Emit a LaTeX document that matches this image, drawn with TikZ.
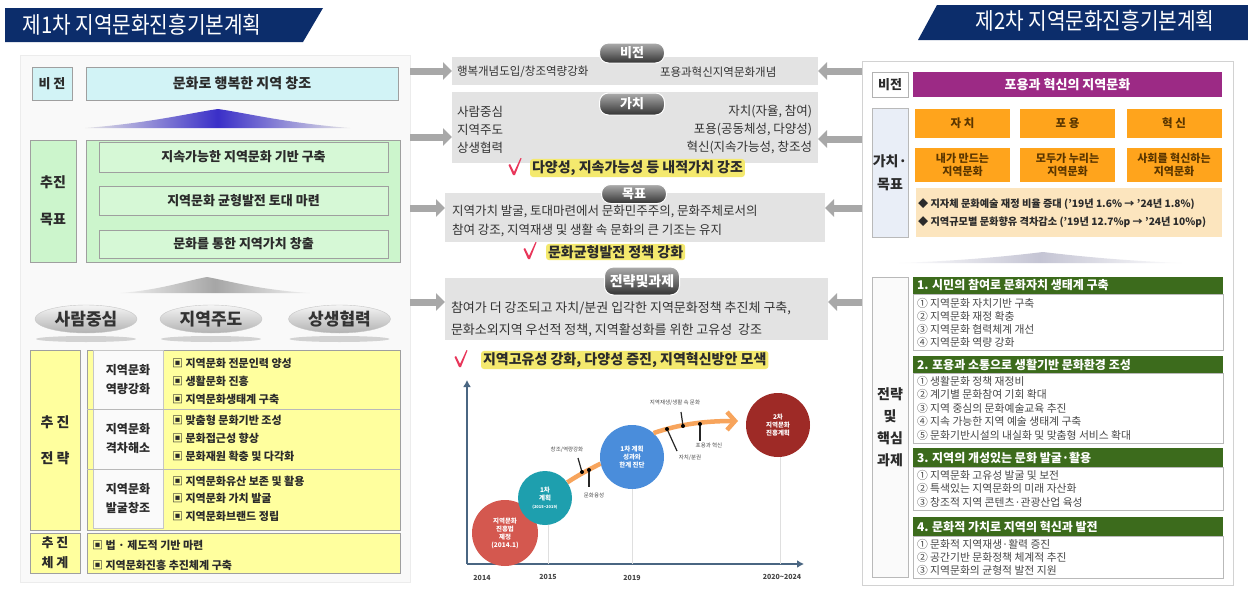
\documentclass[tikz,border=0pt]{standalone}
\usepackage{fontspec}
\setmainfont{Noto Sans CJK KR}
\usetikzlibrary{arrows.meta,shapes.geometric}
\definecolor{navy}{HTML}{0C2D6B}
\definecolor{cyanbox}{HTML}{D2F3F6}
\definecolor{greenbox}{HTML}{CCF5CC}
\definecolor{greenin}{HTML}{D6F8D6}
\definecolor{yelbox}{HTML}{FFFF9E}
\definecolor{midgrey}{HTML}{E3E3E3}
\definecolor{arrgrey}{HTML}{A8A8A8}
\definecolor{purp}{HTML}{9C2A85}
\definecolor{orng}{HTML}{FFA41C}
\definecolor{beige}{HTML}{FCE5BE}
\definecolor{hgreen}{HTML}{3C6B1C}
\definecolor{chkred}{HTML}{E8365A}
\definecolor{glowy}{HTML}{F4E96E}
\definecolor{axisc}{HTML}{4A6682}
\definecolor{cA}{HTML}{D4584F}
\definecolor{cB}{HTML}{1E9FAE}
\definecolor{cC}{HTML}{4A8DDB}
\definecolor{cD}{HTML}{9E2A26}
\definecolor{orl}{HTML}{F7A45C}
\definecolor{txt}{HTML}{2B2B2B}
\definecolor{otxt}{HTML}{5A3600}
\definecolor{vgbox}{HTML}{E9EEF7}
\definecolor{tribl}{HTML}{3A2FC8}
\newcommand{\fsz}[2]{\fontsize{#1}{#2}\selectfont}
\tikzset{
  bx/.style={inner sep=0pt, outer sep=0pt, draw=gray!75, line width=0.8pt, text=txt},
  tx/.style={inner sep=0pt, outer sep=0pt, text=txt},
  itm/.style={tx, anchor=west, font=\bfseries\fsz{11}{13}},
  mtx/.style={tx, text=black!80, font=\fsz{12.5}{14}},
  glowtx/.style={anchor=west, inner xsep=2pt, inner ysep=1.5pt, outer sep=0pt, text=txt, fill=glowy, rounded corners=3pt, font=\bfseries\fsz{14}{16}},
  garrow/.style={draw=arrgrey, line width=7pt, -{Triangle[length=9pt,width=17pt]}},
  mbox/.style={inner sep=0pt, outer sep=0pt, fill=midgrey},
  midpill/.style={rounded corners=9pt, top color=gray!65, bottom color=black!80, draw=white, line width=1pt, text=white, font=\bfseries\fsz{13}{15}, inner sep=0pt},
  kpill/.style={ellipse, top color=gray!8, bottom color=gray!60, draw=gray!45, text=black!80, font=\bfseries\fsz{17}{19}, minimum width=102pt, minimum height=28pt, inner sep=0pt},
  obox/.style={inner sep=0pt, outer sep=0pt, fill=orng, text=otxt, font=\bfseries\fsz{11.5}{13}, align=center, minimum width=95},
  hbar/.style={inner sep=0pt, outer sep=0pt, fill=hgreen, minimum width=310},
  htx/.style={tx, anchor=west, text=white, font=\bfseries\fsz{12}{14}},
  cbox/.style={inner sep=0pt, outer sep=0pt, fill=white, draw=gray!55, line width=0.7pt, minimum width=310},
  rit/.style={tx, anchor=west, text=black!72, font=\fsz{10.8}{12}},
  circ/.style={circle, inner sep=0pt, text=white, align=center, font=\bfseries\fsz{6.5}{8}},
  yr/.style={tx, text=gray!55!black, font=\bfseries\fsz{7}{8}},
  clbl/.style={tx, text=gray!60!black, font=\fsz{5.5}{6.5}},
  tick/.style={draw=black!85, line width=1.2pt},
  checkmark/.pic={\fill[chkred] (-5.5,-3) -- (-4,-4) -- (0,4) -- (6.5,-10) -- (7.5,-9.5) -- (1,7) -- (-1,7) -- cycle;}
}
\begin{document}
\begin{tikzpicture}[x=1pt,y=-1pt]
\useasboundingbox (0,0) rectangle (1248,589);
\fill[white] (0,0) rectangle (1248,589);

% ===== LEFT =====
\fill[navy] (5,8) -- (323,8) -- (303,42) -- (5,42) -- cycle;
\node[tx, text=white, font=\fsz{23}{25}] (t1) at (142,25) {\scalebox{0.88}[1]{제1차 지역문화진흥기본계획}};
\node[inner sep=0pt, outer sep=0pt, fill=gray!5, draw=gray!15, minimum width=390, minimum height=527] (lp) at (215,318.5) {};

\node[bx, fill=cyanbox, minimum width=40, minimum height=33, font=\bfseries\fsz{13}{15}] (lv) at (52,83.5) {비 전};
\node[bx, fill=cyanbox, minimum width=312, minimum height=33, font=\bfseries\fsz{14}{16}] (lvm) at (242,83.5) {문화로 행복한 지역 창조};

\shade[left color=gray!20, right color=gray!20, middle color=tribl]
  (85,128) .. controls (150,123) and (190,113) .. (218,109) .. controls (246,113) and (286,123) .. (350,128) -- cycle;

\node[bx, fill=greenbox, minimum width=46, minimum height=122, align=center, font=\bfseries\fsz{14}{37}] (lg) at (53,201) {추진\\목표};
\node[bx, fill=greenbox, minimum width=314, minimum height=122] (lgo) at (243,201) {};
\node[bx, fill=greenin, minimum width=289, minimum height=30, font=\bfseries\fsz{13}{15}] (g1) at (243.5,157) {지속가능한 지역문화 기반 구축};
\node[bx, fill=greenin, minimum width=289, minimum height=29, font=\bfseries\fsz{13}{15}] (g2) at (243.5,200.5) {지역문화 균형발전 토대 마련};
\node[bx, fill=greenin, minimum width=289, minimum height=28, font=\bfseries\fsz{13}{15}] (g3) at (243.5,244) {문화를 통한 지역가치 창출};

\shade[left color=gray!10, right color=gray!10, middle color=gray!70]
  (120,293) .. controls (160,290) and (185,281) .. (207,277) .. controls (229,281) and (260,290) .. (310,293) -- cycle;

\fill[gray!35] (86,339) ellipse [x radius=50, y radius=3];
\fill[gray!35] (211,339) ellipse [x radius=50, y radius=3];
\fill[gray!35] (339.5,339) ellipse [x radius=50, y radius=3];
\node[kpill] (p1) at (86,319) {사람중심};
\node[kpill] (p2) at (211,319) {지역주도};
\node[kpill] (p3) at (339.5,319) {상생협력};

\node[bx, fill=yelbox, minimum width=50, minimum height=180, align=center, font=\bfseries\fsz{14}{36}] (ls) at (55,440) {추 진\\전 략};
\node[bx, fill=yelbox, minimum width=313, minimum height=180] (lso) at (243.5,440) {};
\node[bx, draw=gray!45, fill=gray!4, minimum width=70, minimum height=59, align=center, font=\bfseries\fsz{12}{19}] (s1) at (128,379.5) {지역문화\\역량강화};
\node[bx, draw=gray!45, fill=gray!4, minimum width=70, minimum height=60, align=center, font=\bfseries\fsz{12}{19}] (s2) at (128,439) {지역문화\\격차해소};
\node[bx, draw=gray!45, fill=gray!4, minimum width=70, minimum height=59, align=center, font=\bfseries\fsz{12}{19}] (s3) at (128,498.5) {지역문화\\발굴창조};
\draw[gray!55, line width=0.7pt] (lso.west |- s1.south) -- (lso.east |- s1.south);
\draw[gray!55, line width=0.7pt] (lso.west |- s2.south) -- (lso.east |- s2.south);
\node[itm] (i11) at (172,363) {▣ 지역문화 전문인력 양성};
\node[itm] (i12) at (172,381) {▣ 생활문화 진흥};
\node[itm] (i13) at (172,399) {▣ 지역문화생태계 구축};
\node[itm] (i21) at (172,420) {▣ 맞춤형 문화기반 조성};
\node[itm] (i22) at (172,438) {▣ 문화접근성 향상};
\node[itm] (i23) at (172,456) {▣ 문화재원 확충 및 다각화};
\node[itm] (i31) at (172,481) {▣ 지역문화유산 보존 및 활용};
\node[itm] (i32) at (172,498) {▣ 지역문화 가치 발굴};
\node[itm] (i33) at (172,516) {▣ 지역문화브랜드 정립};

\node[bx, fill=yelbox, minimum width=50, minimum height=40, align=center, font=\bfseries\fsz{13}{20}] (lsys) at (55,553) {추 진\\체 계};
\node[bx, fill=yelbox, minimum width=313, minimum height=40] (lsyso) at (243.5,553) {};
\node[itm] (b1) at (92,545) {▣ 법 · 제도적 기반 마련};
\node[itm] (b2) at (92,565) {▣ 지역문화진흥 추진체계 구축};

% ===== MIDDLE =====
\node[mbox, minimum width=366, minimum height=28] (mv) at (635,71) {};
\node[mbox, minimum width=366, minimum height=71] (mval) at (635,127.5) {};
\node[mbox, minimum width=380, minimum height=49] (mgoal) at (635,217.5) {};
\node[mbox, minimum width=383, minimum height=62] (mstr) at (636.5,309) {};

\node[midpill, minimum width=65, minimum height=20] (pv) at (632,53) {비전};
\node[midpill, minimum width=65, minimum height=22] (pval) at (632,104) {가치};
\node[midpill, minimum width=65, minimum height=19] (pgoal) at (634,194) {목표};
\node[midpill, minimum width=75, minimum height=28, font=\bfseries\fsz{14}{16}] (pstr) at (642,281) {전략및과제};

\node[mtx, anchor=west, font=\fsz{11.5}{13}] (mv1) at (457,72) {행복개념도입/창조역량강화};
\node[mtx, anchor=west, font=\fsz{11.5}{13}] (mv2) at (660,72) {포용과혁신지역문화개념};

\node[mtx, anchor=west] (va1) at (457,112) {사람중심};
\node[mtx, anchor=west] (va2) at (457,130) {지역주도};
\node[mtx, anchor=west] (va3) at (457,148) {상생협력};
\node[mtx, anchor=east] (vb1) at (812,112) {자치(자율, 참여)};
\node[mtx, anchor=east] (vb2) at (812,130) {포용(공동체성, 다양성)};
\node[mtx, anchor=east] (vb3) at (812,148) {혁신(지속가능성, 창조성};
\pic at (514,168) {checkmark};
\node[glowtx] (ck1) at (530,168) {다양성, 지속가능성 등 내적가치 강조};

\node[mtx, anchor=west] (go1) at (452,212) {지역가치 발굴, 토대마련에서 문화민주주의, 문화주체로서의};
\node[mtx, anchor=west] (go2) at (452,230) {참여 강조, 지역재생 및 생활 속 문화의 큰 기조는 유지};
\pic at (529,252) {checkmark};
\node[glowtx] (ck2) at (546,252) {문화균형발전 정책 강화};

\node[mtx, anchor=west, font=\fsz{13}{15}] (st1) at (451,308) {참여가 더 강조되고 자치/분권 입각한 지역문화정책 추진체 구축,};
\node[mtx, anchor=west, font=\fsz{13}{15}] (st2) at (451,330) {문화소외지역 우선적 정책, 지역활성화를 위한 고유성\ \ 강조};
\pic at (460,360) {checkmark};
\node[glowtx] (ck3) at (481,360) {지역고유성 강화, 다양성 증진, 지역혁신방안 모색};

% chart
\coordinate (org) at (467,564);
\coordinate (ytop) at (467,380);
\coordinate (xend) at (804,564);
\draw[axisc, line width=1.8pt, -{Latex[length=7pt,width=8pt]}] (org) -- (ytop);
\draw[axisc, line width=1.8pt, -{Latex[length=7pt,width=8pt]}] (org) -- (xend);
\draw[gray!25, line width=0.8pt] (548,520) -- (548,564);
\draw[gray!25, line width=0.8pt] (632,480) -- (632,564);
\draw[gray!25, line width=0.8pt] (780,450) -- (780,564);
\node[yr] (y1) at (482,578) {2014};
\node[yr] (y2) at (548,577) {2015};
\node[yr] (y3) at (632,578) {2019};
\node[yr] (y4) at (782,577) {2020\textasciitilde 2024};

\node[circ, fill=cA, minimum size=66] (cA) at (505,533) {지역문화\\진흥법\\제정\\(2014.1)};
\node[circ, fill=cB, minimum size=54] (cB) at (545,498) {1차\\계획\\{\fsz{4}{5}(2015\textasciitilde 2019)}};
\node[circ, fill=cC, minimum size=64] (cC) at (632,457) {1차 계획\\성과와\\한계 진단};
\node[circ, fill=cD, minimum size=64] (cD) at (778,425) {2차\\지역문화\\진흥계획};

\coordinate (otip) at (738,421);
\draw[orl, line width=4.5pt] (cB.35) .. controls (580,474) and (592,468) .. (cC.192);
\draw[orl, line width=4.5pt, -{Straight Barb[length=8pt,width=18pt]}] (cC.48) .. controls (680,424) and (705,421) .. (otip);
\draw[tick] (582,472) -- (578,458);
\draw[tick] (589,470) -- (589,487);
\draw[tick] (667,429) -- (677,451);
\draw[tick] (683,426) -- (681,412);
\draw[tick] (700,424) -- (700,441);
\foreach \p in {(582,472),(589,470),(667,429),(683,426),(700,424)} \fill[black] \p circle (2);
\node[clbl] (l1) at (567,450) {창조/역량강화};
\node[clbl] (l2) at (594,495) {문화융성};
\node[clbl] (l3) at (675,403) {지역재생/생활 속 문화};
\node[clbl] (l4) at (690,458) {자치/분권};
\node[clbl] (l5) at (709,445) {포용과 혁신};

% ===== RIGHT =====
\fill[navy] (937,5) -- (1248,5) -- (1248,40) -- (918,40) -- cycle;
\node[tx, text=white, font=\fsz{23}{25}] (t2) at (1095,21) {\scalebox{0.88}[1]{제2차 지역문화진흥기본계획}};
\node[inner sep=0pt, outer sep=0pt, fill=white, draw=gray!35, line width=0.8pt, minimum width=371, minimum height=524] (rp) at (1047.5,323) {};

\node[bx, fill=white, draw=gray!60, minimum width=36, minimum height=25, font=\bfseries\fsz{13}{15}] (rv) at (890,84.5) {비전};
\node[inner sep=0pt, fill=purp, text=white, minimum width=309, minimum height=25, font=\bfseries\fsz{13}{15}] (rvm) at (1067.5,84.5) {포용과 혁신의 지역문화};

\node[bx, fill=vgbox, draw=gray!55, minimum width=36, minimum height=129, align=center, font=\bfseries\fsz{14}{23}] (rvg) at (890,172.5) {가치·\\목표};
\node[obox, minimum height=29] (o1) at (962.5,123.5) {자 치};
\node[obox, minimum height=29] (o2) at (1067.5,123.5) {포 용};
\node[obox, minimum height=29] (o3) at (1174,123.5) {혁 신};
\node[obox, minimum height=34, font=\bfseries\fsz{11}{13}] (o4) at (962.5,165) {내가 만드는\\지역문화};
\node[obox, minimum height=34, font=\bfseries\fsz{11}{13}] (o5) at (1067.5,165) {모두가 누리는\\지역문화};
\node[obox, minimum height=34, font=\bfseries\fsz{11}{13}] (o6) at (1174,165) {사회를 혁신하는\\지역문화};
\node[inner sep=0pt, fill=beige, minimum width=306, minimum height=49] (rb) at (1069,212.5) {};
\node[tx, anchor=west, font=\bfseries\fsz{10.2}{12}] (rb1) at (918,204) {◆ 지자체 문화예술 재정 비율 증대 (’19년 1.6\% → ’24년 1.8\%)};
\node[tx, anchor=west, font=\bfseries\fsz{10.2}{12}] (rb2) at (918,222) {◆ 지역규모별 문화향유 격차감소 (’19년 12.7\%p → ’24년 10\%p)};

\shade[left color=white, right color=white, middle color=blue!15!gray!40]
  (897,263) .. controls (960,261) and (1010,256) .. (1043,252) .. controls (1076,256) and (1126,261) .. (1183,263) -- cycle;

\node[bx, fill=gray!4, draw=gray!55, minimum width=36, minimum height=300, align=center, font=\bfseries\fsz{14}{22}] (rs) at (890,427) {전략\\및\\핵심\\과제};

\node[hbar, minimum height=17] (h1) at (1068,285.5) {};
\node[htx] (h1t) at (917,285.5) {1. 시민의 참여로 문화자치 생태계 구축};
\node[cbox, minimum height=56] (cb1) at (1068,322) {};
\node[rit] (r11) at (917,303) {① 지역문화 자치기반 구축};
\node[rit] (r12) at (917,316) {② 지역문화 재정 확충};
\node[rit] (r13) at (917,329) {③ 지역문화 협력체계 개선};
\node[rit] (r14) at (917,342) {④ 지역문화 역량 강화};

\node[hbar, minimum height=17] (h2) at (1068,364.5) {};
\node[htx] (h2t) at (917,364.5) {2. 포용과 소통으로 생활기반 문화환경 조성};
\node[cbox, minimum height=70] (cb2) at (1068,408) {};
\node[rit] (r21) at (917,381) {① 생활문화 정책 재정비};
\node[rit] (r22) at (917,394.5) {② 계기별 문화참여 기회 확대};
\node[rit] (r23) at (917,408) {③ 지역 중심의 문화예술교육 추진};
\node[rit] (r24) at (917,421.5) {④ 지속 가능한 지역 예술 생태계 구축};
\node[rit] (r25) at (917,435) {⑤ 문화기반시설의 내실화 및 맞춤형 서비스 확대};

\node[hbar, minimum height=19] (h3) at (1068,457.5) {};
\node[htx] (h3t) at (917,457.5) {3. 지역의 개성있는 문화 발굴·활용};
\node[cbox, minimum height=43] (cb3) at (1068,488.5) {};
\node[rit] (r31) at (917,475) {① 지역문화 고유성 발굴 및 보전};
\node[rit] (r32) at (917,488) {② 특색있는 지역문화의 미래 자산화};
\node[rit] (r33) at (917,502) {③ 창조적 지역 콘텐츠·관광산업 육성};

\node[hbar, minimum height=19] (h4) at (1068,526.5) {};
\node[htx] (h4t) at (917,526.5) {4. 문화적 가치로 지역의 혁신과 발전};
\node[cbox, minimum height=42] (cb4) at (1068,557) {};
\node[rit] (r41) at (917,544) {① 문화적 지역재생·활력 증진};
\node[rit] (r42) at (917,557) {② 공간기반 문화정책 체계적 추진};
\node[rit] (r43) at (917,570) {③ 지역문화의 균형적 발전 지원};

% ===== ARROWS =====
\draw[garrow] (lp.east |- mv.west) -- (mv.west);
\draw[garrow] (lp.east |- 0,137) -- (mval.west |- 0,137);
\draw[garrow] (lp.east |- 0,208) -- (mgoal.west |- 0,208);
\draw[garrow] (lp.east |- 0,302) -- (mstr.west |- 0,302);
\draw[garrow] (rp.west |- mv.east) -- (mv.east);
\draw[garrow] (rp.west |- 0,139) -- (mval.east |- 0,139);
\draw[garrow] (rp.west |- 0,208) -- (mgoal.east |- 0,208);
\draw[garrow] (rp.west |- 0,302) -- (mstr.east |- 0,302);
\end{tikzpicture}
\end{document}
